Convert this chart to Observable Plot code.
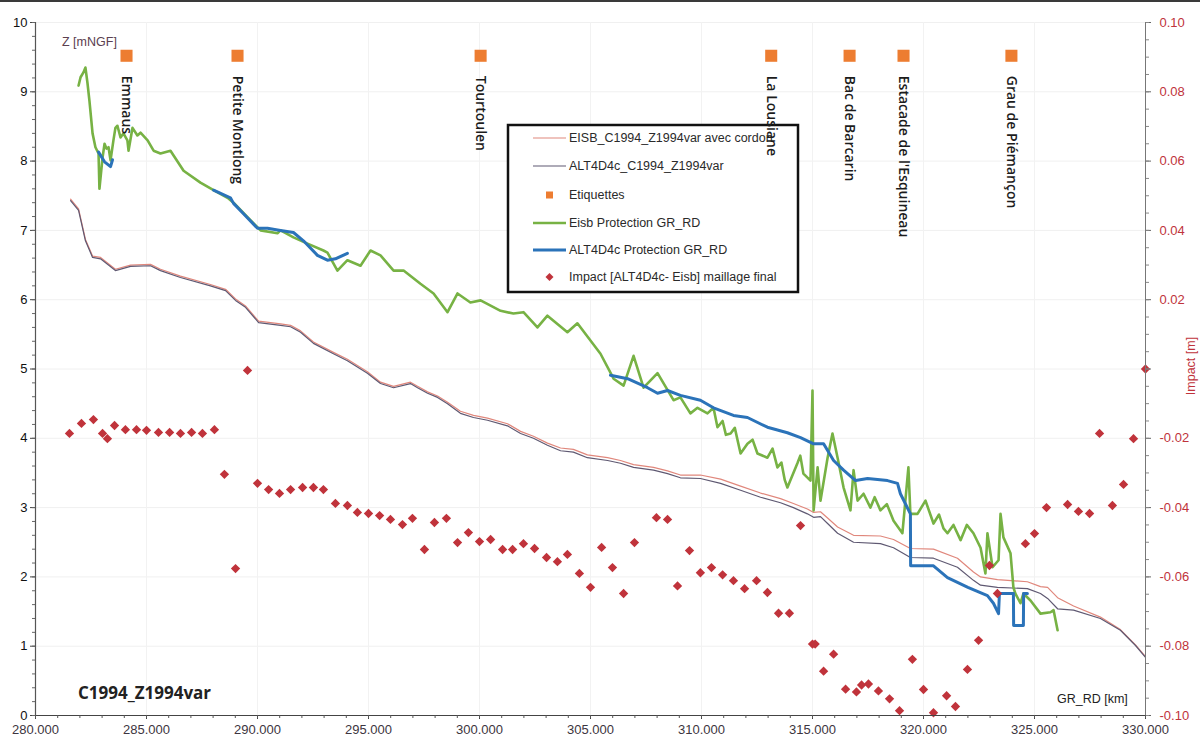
<!DOCTYPE html>
<html><head><meta charset="utf-8">
<script src="https://cdn.jsdelivr.net/npm/d3@7"></script>
<script src="https://cdn.jsdelivr.net/npm/@observablehq/plot@0.6"></script>
<style>
body{margin:0;background:#fff;}
#wrap{position:relative;width:1200px;height:739px;overflow:hidden;}
#topline{position:absolute;left:0;top:0;width:1200px;height:2px;background:#3a3a3a;}
</style></head><body><div id="wrap"></div>
<script>
// ---- data ----
const altC1994 = [[281.58,7.43],[281.94,7.29],[282.25,6.85],[282.57,6.61],[282.93,6.59],[283.60,6.42],[284.28,6.48],[285.18,6.49],[285.63,6.42],[286.53,6.32],[287.88,6.20],[288.56,6.13],[289.01,5.99],[289.46,5.89],[290.05,5.67],[291.04,5.63],[291.49,5.61],[291.94,5.53],[292.52,5.37],[293.42,5.22],[294.05,5.12],[294.95,4.94],[295.54,4.79],[296.13,4.73],[296.89,4.79],[297.21,4.73],[297.66,4.65],[298.11,4.59],[298.56,4.50],[299.14,4.36],[299.73,4.30],[300.36,4.26],[301.26,4.18],[301.85,4.07],[302.43,4.00],[303.06,3.90],[303.65,3.82],[304.23,3.80],[304.86,3.72],[305.77,3.68],[306.35,3.64],[306.94,3.58],[307.84,3.54],[308.47,3.49],[309.05,3.43],[309.95,3.42],[310.86,3.35],[311.76,3.25],[312.66,3.15],[313.56,3.07],[314.14,3.00],[314.77,2.91],[315.05,2.86],[315.36,2.87],[315.68,2.77],[316.13,2.63],[316.85,2.50],[318.06,2.48],[318.65,2.42],[319.41,2.28],[320.45,2.27],[321.53,2.14],[322.25,1.95],[322.57,1.88],[323.33,1.85],[324.68,1.83],[325.27,1.76],[325.59,1.69],[326.04,1.54],[326.76,1.52],[327.97,1.40],[328.87,1.23],[329.55,1.01],[330.00,0.84]];

const eisbC1994 = [[281.58,7.45],[281.94,7.31],[282.25,6.87],[282.57,6.63],[282.93,6.61],[283.60,6.44],[284.28,6.50],[285.18,6.51],[285.63,6.44],[286.53,6.34],[287.88,6.22],[288.56,6.15],[289.01,6.01],[289.46,5.91],[290.05,5.69],[291.04,5.65],[291.49,5.63],[291.94,5.55],[292.52,5.39],[293.42,5.24],[294.05,5.14],[294.95,4.96],[295.54,4.81],[296.13,4.75],[296.89,4.81],[297.21,4.75],[297.66,4.67],[298.11,4.61],[298.56,4.52],[299.14,4.39],[299.73,4.33],[300.36,4.29],[301.26,4.21],[301.85,4.10],[302.43,4.03],[303.06,3.93],[303.65,3.86],[304.23,3.84],[304.86,3.76],[305.77,3.72],[306.35,3.68],[306.94,3.62],[307.84,3.58],[308.47,3.53],[309.05,3.47],[309.95,3.47],[310.86,3.41],[311.76,3.31],[312.66,3.21],[313.56,3.13],[314.14,3.06],[314.77,2.98],[315.05,2.93],[315.36,2.94],[315.68,2.85],[316.13,2.72],[316.85,2.60],[318.06,2.59],[318.65,2.54],[319.41,2.41],[320.45,2.40],[321.53,2.27],[322.25,2.07],[322.57,2.00],[323.33,1.96],[324.68,1.93],[325.27,1.86],[325.59,1.85],[326.04,1.70],[326.76,1.58],[327.97,1.42],[328.87,1.24],[329.55,1.02],[330.00,0.85]];

const eisbProtection = [[281.94,9.09],[282.03,9.21],[282.16,9.28],[282.25,9.35],[282.34,9.13],[282.43,8.87],[282.57,8.40],[282.70,8.20],[282.84,8.11],[282.88,7.60],[283.02,8.05],[283.11,8.25],[283.20,8.18],[283.29,8.20],[283.38,8.01],[283.51,8.30],[283.60,8.48],[283.69,8.51],[283.83,8.34],[283.96,8.40],[284.14,8.30],[284.19,8.15],[284.37,8.48],[284.59,8.37],[284.73,8.41],[285.05,8.30],[285.32,8.15],[285.63,8.11],[286.08,8.15],[286.67,7.86],[287.43,7.69],[288.02,7.58],[288.65,7.47],[288.92,7.40],[289.55,7.19],[290.14,7.00],[290.90,6.96],[291.04,7.00],[291.62,6.90],[292.25,6.81],[292.97,6.71],[293.15,6.68],[293.60,6.42],[294.05,6.57],[294.64,6.49],[295.09,6.71],[295.54,6.64],[296.13,6.42],[296.58,6.42],[297.34,6.23],[297.93,6.09],[298.56,5.82],[299.01,6.09],[299.59,5.96],[300.05,5.99],[300.95,5.84],[301.53,5.80],[301.98,5.82],[302.61,5.60],[303.06,5.77],[303.96,5.53],[304.41,5.66],[305.45,5.22],[306.04,4.86],[306.49,4.76],[306.94,5.19],[307.39,4.73],[308.02,4.94],[308.74,4.55],[309.05,4.59],[309.50,4.36],[309.82,4.44],[310.27,4.36],[310.54,4.44],[310.72,4.16],[310.95,4.25],[311.10,4.05],[311.31,4.07],[311.50,4.15],[311.76,3.78],[312.07,3.92],[312.30,3.98],[312.52,3.78],[312.97,3.72],[313.20,3.85],[313.42,3.58],[313.60,3.65],[313.75,3.40],[313.87,3.29],[314.32,3.64],[314.45,3.75],[314.59,3.49],[314.91,3.39],[315.00,4.69],[315.05,2.96],[315.23,3.58],[315.36,3.10],[315.68,3.72],[315.90,4.07],[316.13,3.72],[316.40,3.29],[316.71,2.96],[316.85,3.54],[317.03,3.10],[317.30,3.20],[317.61,3.00],[317.80,3.15],[318.06,2.96],[318.35,3.05],[318.65,2.81],[319.05,2.63],[319.32,3.58],[319.41,2.91],[319.73,2.91],[320.09,3.10],[320.45,2.77],[320.70,2.90],[320.90,2.70],[321.08,2.63],[321.35,2.75],[321.67,2.53],[321.95,2.75],[322.25,2.63],[322.57,2.42],[322.79,2.05],[322.88,2.63],[323.11,2.14],[323.38,2.24],[323.47,2.91],[323.60,2.57],[323.92,2.34],[324.05,1.85],[324.14,1.76],[324.37,1.62],[324.50,1.76],[324.82,1.66],[325.27,1.47],[325.72,1.49],[325.86,1.52],[326.04,1.23]];

const altProtectionA = [[282.84,8.13],[283.11,7.99],[283.38,7.92],[283.47,8.02]];
const altProtectionB = [[288.02,7.58],[288.78,7.47],[288.92,7.39],[289.37,7.24],[290.00,7.03],[290.45,7.03],[291.04,7.00],[291.62,6.97],[292.07,6.85],[292.70,6.64],[293.15,6.57],[293.51,6.59],[294.05,6.67]];
const altProtectionC = [[305.90,4.91],[306.67,4.86],[307.57,4.73],[308.02,4.65],[308.47,4.69],[309.05,4.62],[309.95,4.55],[310.54,4.44],[311.44,4.33],[312.07,4.30],[312.97,4.16],[313.87,4.08],[314.46,4.01],[315.05,3.92],[315.50,3.92],[315.95,3.68],[316.40,3.54],[316.94,3.39],[317.48,3.42],[318.38,3.39],[318.83,3.35],[318.96,3.20],[319.41,2.91],[319.42,2.16],[320.45,2.16],[321.08,1.99],[322.00,1.85],[322.88,1.73],[323.15,1.62],[323.38,1.47],[323.42,1.76],[324.05,1.76],[324.06,1.30],[324.50,1.30],[324.51,1.76],[324.68,1.76]];

const impactKm = [281.53,282.07,282.61,283.02,283.24,283.56,284.05,284.55,285.00,285.54,286.04,286.53,287.03,287.52,288.06,288.51,289.01,289.55,290.00,290.50,290.99,291.49,292.03,292.52,292.97,293.51,294.05,294.50,295.00,295.50,295.99,296.53,296.98,297.52,297.97,298.51,299.01,299.50,300.00,300.50,301.04,301.49,301.98,302.48,303.02,303.51,303.96,304.50,305.00,305.50,305.99,306.49,306.98,307.97,308.47,308.92,309.46,309.95,310.45,310.95,311.44,311.94,312.48,312.97,313.47,313.96,314.46,315.00,315.12,315.50,315.95,316.49,316.98,317.21,317.52,317.97,318.47,318.92,319.50,320.00,320.45,321.04,321.44,321.98,322.48,322.97,323.33,324.59,325.00,325.54,326.49,326.98,327.48,327.93,328.51,329.01,329.46,330.00];
const impactM = [-0.0186,-0.0157,-0.0146,-0.0186,-0.0201,-0.0163,-0.0175,-0.0175,-0.0177,-0.0183,-0.0183,-0.0186,-0.0183,-0.0186,-0.0175,-0.0304,-0.0576,-0.0004,-0.0330,-0.0348,-0.0359,-0.0348,-0.0342,-0.0342,-0.0348,-0.0388,-0.0394,-0.0414,-0.0417,-0.0423,-0.0434,-0.0449,-0.0431,-0.0521,-0.0443,-0.0431,-0.0501,-0.0472,-0.0498,-0.0492,-0.0521,-0.0521,-0.0504,-0.0518,-0.0544,-0.0556,-0.0535,-0.0590,-0.0630,-0.0515,-0.0573,-0.0648,-0.0501,-0.0429,-0.0434,-0.0626,-0.0524,-0.0588,-0.0573,-0.0594,-0.0611,-0.0634,-0.0611,-0.0645,-0.0705,-0.0705,-0.0452,-0.0794,-0.0794,-0.0872,-0.0823,-0.0924,-0.0932,-0.0912,-0.0909,-0.0929,-0.0952,-0.0986,-0.0838,-0.0925,-0.0992,-0.0943,-0.0974,-0.0867,-0.0783,-0.0567,-0.0648,-0.0504,-0.0475,-0.0400,-0.0391,-0.0411,-0.0417,-0.0186,-0.0394,-0.0333,-0.0201,0.0000];

const placeNames = ["Emmaus","Petite Montlong","Tourtoulen","La Lousiane","Bac de Barcarin","Estacade de l'Esquineau","Grau de Piémançon"];
const placeKm = [284.1,289.1,300.05,313.14,316.67,319.1,323.96];
const placeZ = 9.52;

const zTicks = [0,1,2,3,4,5,6,7,8,9,10];
const kmTicks = [280,285,290,295,300,305,310,315,320,325,330];

const legendLabels = ["EISB_C1994_Z1994var avec cordon","ALT4D4c_C1994_Z1994var","Etiquettes","Eisb Protection GR_RD","ALT4D4c Protection GR_RD","Impact [ALT4D4c- Eisb] maillage final"];

// ---- tables ----
const toRows = arr => arr.map(([km, z]) => ({km, z}));
const blueRows = [altProtectionA, altProtectionB, altProtectionC].flatMap((s, i) => s.map(([km, z]) => ({km, z, seg: i})));
const impactRows = impactKm.map((km, i) => ({km, impact: impactM[i]}));
const placeRows = placeNames.map((name, i) => ({name, km: placeKm[i], z: placeZ}));

const RED = "#c0333b";
const impactToZ = m => 5 + m * 50;

const plot = Plot.plot({
  width: 1200, height: 739,
  marginLeft: 35, marginRight: 55, marginTop: 22, marginBottom: 24,
  style: {fontFamily: "'Liberation Sans', Arial, sans-serif", fontSize: "13px", background: "white", overflow: "visible"},
  x: {domain: [280, 330], label: null},
  y: {domain: [0, 10], label: null},
  marks: [
    Plot.gridY({ticks: zTicks, stroke: "#f0f0f0", strokeOpacity: 1}),
    Plot.gridX({ticks: kmTicks, stroke: "#f2f2f2", strokeOpacity: 1}),
    Plot.line(toRows(eisbC1994), {x: "km", y: "z", stroke: "#e0877c", strokeWidth: 1.2}),
    Plot.line(toRows(altC1994), {x: "km", y: "z", stroke: "#5f5972", strokeWidth: 1.2}),
    Plot.line(toRows(eisbProtection), {x: "km", y: "z", stroke: "#77b244", strokeWidth: 2.6, strokeLinejoin: "round"}),
    Plot.line(blueRows, {x: "km", y: "z", z: "seg", stroke: "#2b73b9", strokeWidth: 3, strokeLinejoin: "round"}),
    Plot.dot(impactRows, {x: "km", y: d => impactToZ(d.impact), symbol: "diamond2", r: 4.2, fill: RED, stroke: "none"}),
    Plot.dot(placeRows, {x: "km", y: "z", symbol: "square", r: 6.8, fill: "#ed7d31", stroke: "none"}),
    Plot.text(placeRows, {x: "km", y: "z", text: "name", rotate: 90, textAnchor: "start", dy: 20, fontSize: 14, fontWeight: 600, fontFamily: "'Open Sans', 'Noto Sans', sans-serif", fill: "#1c1c1c"}),
    Plot.ruleX([280], {stroke: "#555", strokeWidth: 1.2}),
    Plot.ruleX([330], {stroke: "#777", strokeWidth: 1}),
    Plot.ruleY([0], {stroke: "#444", strokeWidth: 1.2}),
    Plot.axisY({ticks: zTicks, tickSize: 5, tickPadding: 3, fill: "#111", stroke: "#444", label: null}),
    Plot.axisY({ticks: d3.range(0, 10.01, 0.2), tickSize: 3, tickFormat: () => "", stroke: "#666", label: null}),
    Plot.axisY({anchor: "right", ticks: zTicks, tickSize: 5, tickPadding: 9, stroke: "#666", fill: RED, label: null,
      tickFormat: d => d === 5 ? "" : ((d - 5) / 50).toFixed(2)}),
    Plot.axisY({anchor: "right", ticks: d3.range(0, 10.01, 0.25), tickSize: 3, tickFormat: () => "", stroke: "#888", label: null}),
    Plot.axisX({ticks: kmTicks, tickSize: 4, tickPadding: 5, tickFormat: d3.format(".3f"), fill: "#3d3540", stroke: "#444", label: null}),
    Plot.axisX({ticks: d3.range(280, 330.5, 1), tickSize: 3, tickFormat: () => "", stroke: "#555", label: null})
  ]
});

const svg = d3.select(plot);
// annotations
svg.append("text").attr("x", 62).attr("y", 46).attr("text-anchor", "start").attr("font-size", 12.5).attr("fill", "#5b4050").text("Z [mNGF]");
svg.append("text").attr("x", 78).attr("y", 699).attr("text-anchor", "start").attr("font-family", "'Open Sans', sans-serif").attr("font-weight", 700).attr("font-size", 17).attr("fill", "#222").text("C1994_Z1994var");
svg.append("text").attr("x", 1057).attr("y", 703).attr("text-anchor", "start").attr("font-size", 12.5).attr("fill", "#222").text("GR_RD [km]");
svg.append("text").attr("transform", "translate(1195,366) rotate(-90)").attr("text-anchor", "middle").attr("font-size", 12.5).attr("fill", RED).text("Impact [m]");

// legend
const lg = svg.append("g");
lg.append("rect").attr("x", 508).attr("y", 125).attr("width", 290).attr("height", 167).attr("fill", "white").attr("stroke", "#111").attr("stroke-width", 2.5);
const ly = [138, 166, 195, 223, 250, 277];
const lx0 = 533, lx1 = 566, ltx = 569;
lg.append("line").attr("x1", lx0).attr("x2", lx1).attr("y1", ly[0]).attr("y2", ly[0]).attr("stroke", "#e0877c").attr("stroke-width", 1.2);
lg.append("line").attr("x1", lx0).attr("x2", lx1).attr("y1", ly[1]).attr("y2", ly[1]).attr("stroke", "#5f5972").attr("stroke-width", 1.2);
lg.append("rect").attr("x", 546).attr("y", ly[2] - 3.5).attr("width", 7).attr("height", 7).attr("fill", "#ed7d31");
lg.append("line").attr("x1", lx0).attr("x2", lx1).attr("y1", ly[3]).attr("y2", ly[3]).attr("stroke", "#77b244").attr("stroke-width", 2.6);
lg.append("line").attr("x1", lx0).attr("x2", lx1).attr("y1", ly[4]).attr("y2", ly[4]).attr("stroke", "#2b73b9").attr("stroke-width", 3);
lg.append("path").attr("d", `M549.5,${ly[5] - 4}L553.5,${ly[5]}L549.5,${ly[5] + 4}L545.5,${ly[5]}Z`).attr("fill", RED);
legendLabels.forEach((t, i) => {
  lg.append("text").attr("x", ltx).attr("y", ly[i]).attr("dy", "0.35em").attr("text-anchor", "start").attr("font-size", 12.5).attr("fill", "#2a2a2a").text(t);
});
// place names above legend
svg.selectAll("text").filter(function () { return this.textContent === "Emmaus"; }).each(function () { d3.select(this.parentNode).raise(); });

const wrap = document.getElementById("wrap");
wrap.appendChild(plot);
const tl = document.createElement("div"); tl.id = "topline"; wrap.appendChild(tl);
</script></body></html>
